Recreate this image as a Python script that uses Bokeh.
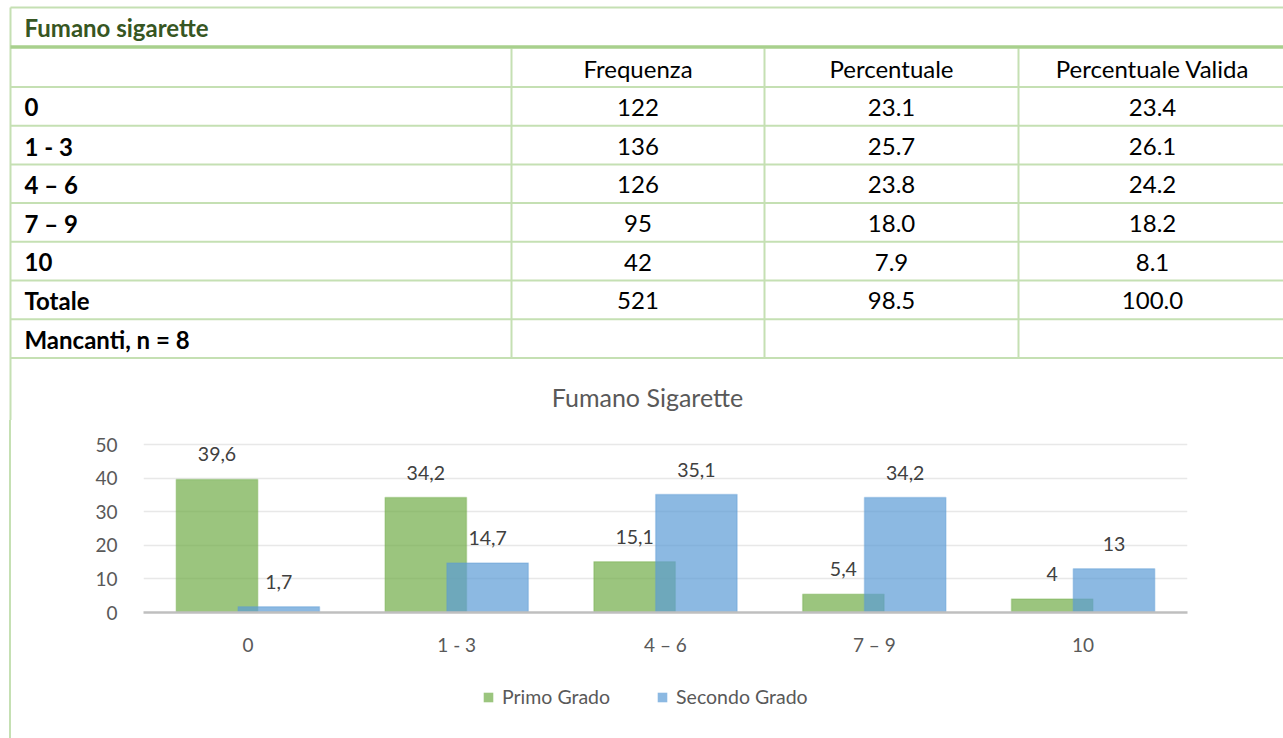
from bokeh.plotting import figure
from bokeh.models import (ColumnDataSource, Range1d, FactorRange, Legend, LegendItem,
                          FixedTicker)
from bokeh.transform import dodge
from bokeh.core.properties import value
from bokeh.embed import file_html
from bokeh.resources import INLINE

# ---- data -----------------------------------------------------------------
table_title = "Fumano sigarette"
col_headers = ["Frequenza", "Percentuale", "Percentuale Valida"]
row_labels = ["0", "1 - 3", "4 – 6", "7 – 9", "10", "Totale", "Mancanti, n = 8"]
frequenza = ["122", "136", "126", "95", "42", "521", ""]
percentuale = ["23.1", "25.7", "23.8", "18.0", "7.9", "98.5", ""]
perc_valida = ["23.4", "26.1", "24.2", "18.2", "8.1", "100.0", ""]

chart_title = "Fumano Sigarette"
categories = ["0", "1 - 3", "4 – 6", "7 – 9", "10"]
primo_grado = [39.6, 34.2, 15.1, 5.4, 4.0]
secondo_grado = [1.7, 14.7, 35.1, 34.2, 13.0]
series_names = ["Primo Grado", "Secondo Grado"]

# ---- styling ----------------------------------------------------------------
FONT = value("Lato")
GRID_GREEN = "#C5E0B3"
HEAD_GREEN = "#A8D08D"
TITLE_GREEN = "#375623"
GREY_TXT = "#595959"
GREEN = "#70AD47"
BLUE = "#5B9BD5"
LEFT_RULE = {"background": "linear-gradient(to right, #ffffff 9px, %s 9px, %s 11px, #ffffff 11px)"
             % (GRID_GREEN, GRID_GREEN)}

W = 1283
TOP_H = 420          # table + chart heading
CHART_H = 252        # plot area + category axis
LEG_H = 738 - TOP_H - CHART_H

# ---- table (drawn in page-pixel coordinates) ---------------------------------
t = figure(width=W, height=TOP_H, x_range=Range1d(0, W), y_range=Range1d(TOP_H, 0),
           output_backend="svg", toolbar_location=None, min_border=0)
t.axis.visible = False
t.grid.visible = False
t.outline_line_color = None

left_x = 10
col_x = [511, 764, 1018]
row_top = 86.5
row_h = 38.7
h_lines = [row_top + row_h * k for k in range(len(row_labels) + 1)]

t.segment(x0=[left_x], y0=[7], x1=[W], y1=[7], line_color=GRID_GREEN, line_width=2)
t.segment(x0=[left_x], y0=[7], x1=[left_x], y1=[TOP_H], line_color=GRID_GREEN, line_width=2)
t.segment(x0=[left_x] * len(h_lines), y0=h_lines, x1=[W] * len(h_lines), y1=h_lines,
          line_color=GRID_GREEN, line_width=2)
t.segment(x0=col_x, y0=[48] * 3, x1=col_x, y1=[h_lines[-1]] * 3,
          line_color=GRID_GREEN, line_width=2)
t.segment(x0=[left_x], y0=[46.5], x1=[W], y1=[46.5], line_color=HEAD_GREEN, line_width=3.5)

t.text(x=[24], y=[27], text=[table_title], text_font=FONT, text_font_style="bold",
       text_font_size="24px", text_color=TITLE_GREEN, text_baseline="middle")

col_centers = [637.5, 891, 1152]
t.text(x=col_centers, y=[row_top - row_h / 2 + 1] * 3, text=col_headers, text_font=FONT,
       text_font_size="24px", text_color="#000000", text_align="center", text_baseline="middle")

row_centers = [row_top + row_h * (k + 0.5) + 1 for k in range(len(row_labels))]
t.text(x=[24] * len(row_labels), y=row_centers, text=row_labels, text_font=FONT,
       text_font_style="bold", text_font_size="24px", text_color="#000000", text_baseline="middle")
for cx, vals in zip(col_centers, [frequenza, percentuale, perc_valida]):
    t.text(x=[cx] * len(vals), y=row_centers, text=vals, text_font=FONT,
           text_font_size="24px", text_color="#000000", text_align="center", text_baseline="middle")

t.text(x=[647], y=[396], text=[chart_title], text_font=FONT, text_font_size="25px",
       text_color=GREY_TXT, text_align="center", text_baseline="middle")

# ---- grouped bar chart -------------------------------------------------------
src = ColumnDataSource(dict(
    cat=categories,
    primo=primo_grado,
    secondo=secondo_grado,
    primo_lbl=[f"{v:g}".replace(".", ",") for v in primo_grado],
    secondo_lbl=[f"{v:g}".replace(".", ",") for v in secondo_grado],
))

p = figure(frame_width=1044, frame_height=182,
           x_range=FactorRange(factors=categories, range_padding=0),
           y_range=Range1d(0, 54.17), output_backend="svg", toolbar_location=None,
           min_border_left=143, min_border_right=96, min_border_top=10,
           min_border_bottom=CHART_H - 192, styles=LEFT_RULE)
p.border_fill_color = None
p.background_fill_color = None
p.outline_line_color = None
p.xgrid.grid_line_color = None
p.ygrid.grid_line_color = "#E8E8E8"
p.ygrid.grid_line_width = 1.5
p.yaxis.ticker = FixedTicker(ticks=[0, 10, 20, 30, 40, 50])

off = 0.148
bw = 0.39
bar_style = dict(fill_alpha=0.7, line_alpha=0.35, line_width=1.5)
p.vbar(x=dodge("cat", -off, range=p.x_range), top="primo", width=bw, source=src,
       fill_color=GREEN, line_color=GREEN, **bar_style)
p.vbar(x=dodge("cat", off, range=p.x_range), top="secondo", width=bw, source=src,
       fill_color=BLUE, line_color=BLUE, **bar_style)

p.text(x=dodge("cat", -off, range=p.x_range), y="primo", text="primo_lbl", source=src,
       text_font=FONT, text_font_size="19.5px", text_color="#404040", text_align="center",
       text_baseline="middle", y_offset=-25)
p.text(x=dodge("cat", off, range=p.x_range), y="secondo", text="secondo_lbl", source=src,
       text_font=FONT, text_font_size="19.5px", text_color="#404040", text_align="center",
       text_baseline="middle", y_offset=-25)

for ax in (p.xaxis[0], p.yaxis[0]):
    ax.major_tick_line_color = None
    ax.minor_tick_line_color = None
    ax.major_label_text_font = "Lato"
    ax.major_label_text_font_size = "19px"
    ax.major_label_text_color = GREY_TXT
p.xaxis.axis_line_color = "#BFBFBF"
p.xaxis.axis_line_width = 2.5
p.xaxis.major_label_standoff = 14
p.yaxis.axis_line_color = None
p.yaxis.major_label_standoff = 20

# ---- legend strip under the chart --------------------------------------------
# Key glyphs reuse the series data with zero width, so only their swatches
# appear (inside the legend).
lg = figure(width=W, height=LEG_H, x_range=FactorRange(factors=categories),
            y_range=Range1d(-200, -100), output_backend="svg", toolbar_location=None,
            min_border=0, styles=LEFT_RULE)
lg.axis.visible = False
lg.grid.visible = False
lg.outline_line_color = None
lg.border_fill_color = None
lg.background_fill_color = None
k1 = lg.vbar(x="cat", top="primo", width=0, source=src,
             fill_color=GREEN, fill_alpha=0.7, line_color=None)
k2 = lg.vbar(x="cat", top="secondo", width=0, source=src,
             fill_color=BLUE, fill_alpha=0.7, line_color=None)

legend = Legend(items=[LegendItem(label=series_names[0], renderers=[k1]),
                       LegendItem(label=series_names[1], renderers=[k2])],
                orientation="horizontal", location=(482, 30),
                label_text_font="Lato", label_text_font_size="19.5px", label_text_color=GREY_TXT,
                glyph_width=12, glyph_height=12, label_standoff=8, spacing=46,
                padding=0, margin=0, border_line_color=None, background_fill_alpha=0)
lg.add_layout(legend)

with open("out.html", "w") as f:
    f.write(file_html([t, p, lg], INLINE))
